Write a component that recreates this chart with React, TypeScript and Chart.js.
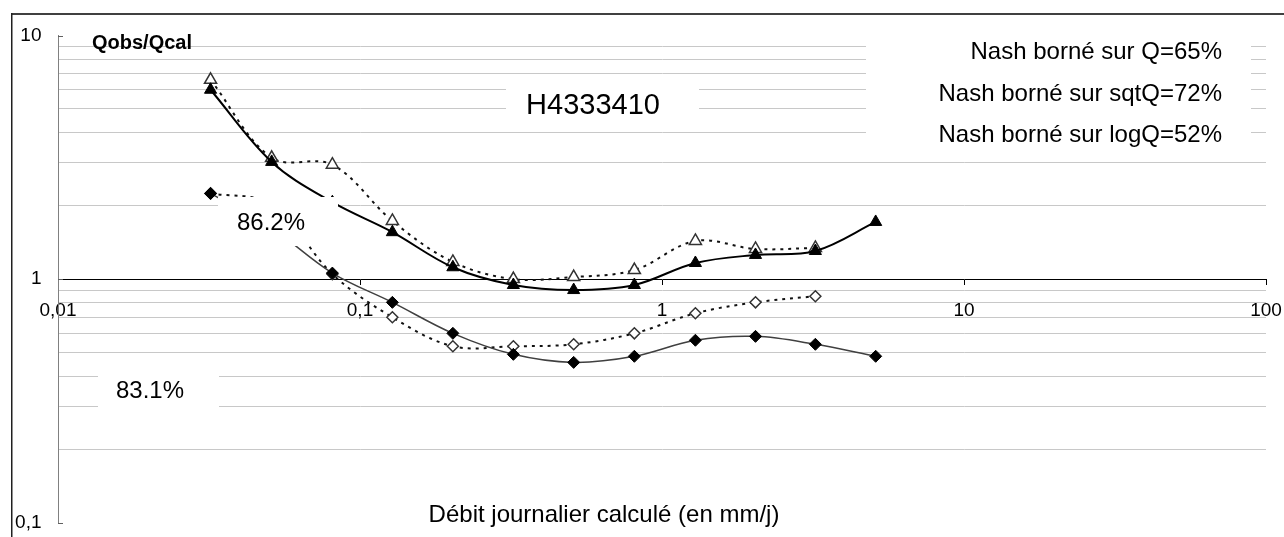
import React, { useEffect, useRef } from "react";
import { Chart, registerables } from "chart.js";

Chart.register(...registerables);

// ---- data ----
const xValues = [0.032, 0.051, 0.081, 0.128, 0.203, 0.322, 0.51, 0.81, 1.29, 2.04, 3.22, 5.1];
const filledTriangles = [5.99, 3.03, 2.07, 1.56, 1.12, 0.947, 0.903, 0.947, 1.166, 1.258, 1.306, 1.718];
const openTriangles = [6.58, 3.15, 2.95, 1.735, 1.177, 1.002, 1.021, 1.091, 1.436, 1.331, 1.344];
const filledDiamonds = [2.25, 1.62, 1.06, 0.804, 0.6, 0.492, 0.456, 0.483, 0.562, 0.583, 0.541, 0.483];
const openDiamonds = [2.25, 2.03, 1.05, 0.698, 0.531, 0.531, 0.541, 0.6, 0.725, 0.804, 0.852];

const xTickValues = [0.01, 0.1, 1, 10, 100];
const xTickLabels = ["0,01", "0,1", "1", "10", "100"];
const yMajorValues = [0.1, 1, 10];
const yMajorLabels = ["0,1", "1", "10"];
const yGridValues = [0.1, 0.2, 0.3, 0.4, 0.5, 0.6, 0.7, 0.8, 0.9, 1, 2, 3, 4, 5, 6, 7, 8, 9, 10];

const yAxisTitle = "Qobs/Qcal";
const xAxisTitle = "Débit journalier calculé (en mm/j)";
const stationName = "H4333410";
const nashLines = ["Nash borné sur Q=65%", "Nash borné sur sqtQ=72%", "Nash borné sur logQ=52%"];
const upperPct = "86.2%";
const lowerPct = "83.1%";

const FONT = '"Liberation Sans", Arial, sans-serif';

export default function App() {
  const ref = useRef<HTMLCanvasElement>(null);

  useEffect(() => {
    const canvas = ref.current;
    if (!canvas) return;
    const mk = (ys: number[]) => ys.map((y, i) => ({ x: xValues[i], y }));

    const overlay = {
      id: "overlay",
      beforeDraw(chart: any) {
        const ctx = chart.ctx;
        ctx.save();
        ctx.fillStyle = "#fff";
        ctx.fillRect(0, 0, chart.width, chart.height);
        ctx.strokeStyle = "#404040";
        ctx.lineWidth = 2;
        ctx.beginPath();
        ctx.moveTo(11, 14);
        ctx.lineTo(chart.width, 14);
        ctx.stroke();
        ctx.strokeStyle = "#202020";
        ctx.lineWidth = 1.5;
        ctx.beginPath();
        ctx.moveTo(11.75, 13);
        ctx.lineTo(11.75, chart.height);
        ctx.stroke();
        ctx.restore();
      },
      afterDatasetsDraw(chart: any) {
        const ctx = chart.ctx;
        ctx.save();
        ctx.fillStyle = "#fff";
        ctx.fillRect(866, 38, 385, 112);
        ctx.fillRect(506, 80, 193, 45);
        ctx.fillRect(218, 197, 120, 49);
        ctx.fillRect(98, 360, 121, 60);

        ctx.fillStyle = "#000";
        ctx.textBaseline = "middle";
        ctx.font = `24px ${FONT}`;
        ctx.textAlign = "right";
        const ys = [52, 94, 135];
        nashLines.forEach((t, i) => ctx.fillText(t, 1222, ys[i]));
        ctx.textAlign = "center";
        ctx.fillText(upperPct, 271, 223);
        ctx.fillText(lowerPct, 150, 391);
        ctx.fillText(xAxisTitle, 604, 515);
        ctx.font = `29px ${FONT}`;
        ctx.fillText(stationName, 593, 106);
        ctx.font = `bold 20px ${FONT}`;
        ctx.textAlign = "left";
        ctx.fillText(yAxisTitle, 92, 43);
        ctx.restore();
      },
      afterDraw(chart: any) {
        const ctx = chart.ctx;
        const ys = chart.scales.y;
        const left = chart.chartArea.left;
        ctx.save();
        ctx.strokeStyle = "#606060";
        ctx.lineWidth = 1;
        yMajorValues.forEach((v) => {
          const py = Math.round(ys.getPixelForValue(v)) + 0.5;
          ctx.beginPath();
          ctx.moveTo(left, py);
          ctx.lineTo(left + 5, py);
          ctx.stroke();
        });
        ctx.restore();
      },
    };

    const chart = new Chart(canvas, {
      type: "line",
      data: {
        datasets: [
          {
            label: "filled triangles",
            data: mk(filledTriangles),
            borderColor: "#000",
            borderWidth: 2,
            pointStyle: "triangle",
            pointRadius: 7,
            pointBackgroundColor: "#000",
            pointBorderColor: "#000",
            pointBorderWidth: 1,
            tension: 0.35,
            fill: false,
          },
          {
            label: "filled diamonds",
            data: mk(filledDiamonds),
            borderColor: "#404040",
            borderWidth: 1.5,
            pointStyle: "rectRot",
            pointRadius: 6,
            pointBackgroundColor: "#000",
            pointBorderColor: "#000",
            pointBorderWidth: 1,
            tension: 0.35,
            fill: false,
          },
          {
            label: "open triangles",
            data: mk(openTriangles),
            borderColor: "#111",
            borderWidth: 2,
            borderDash: [3, 5],
            pointStyle: "triangle",
            pointRadius: 7,
            pointBackgroundColor: "#fff",
            pointBorderColor: "#333",
            pointBorderWidth: 1.5,
            tension: 0.35,
            fill: false,
          },
          {
            label: "open diamonds",
            data: mk(openDiamonds),
            borderColor: "#111",
            borderWidth: 2,
            borderDash: [3, 5],
            pointStyle: "rectRot",
            pointRadius: 5.5,
            pointBackgroundColor: "#fff",
            pointBorderColor: "#333",
            pointBorderWidth: 1.5,
            tension: 0.35,
            fill: false,
          },
        ],
      },
      options: {
        responsive: false,
        animation: false,
        events: [],
        layout: { padding: { left: 0, top: 35.5, right: 18, bottom: 14 } },
        plugins: { legend: { display: false }, tooltip: { enabled: false } },
        scales: {
          x: {
            type: "logarithmic",
            min: 0.01,
            max: 100,
            position: { y: 1 } as any,
            afterBuildTicks: (s: any) => {
              s.ticks = xTickValues.map((v) => ({ value: v, major: true }));
            },
            afterFit: (s: any) => {
              s.height = 0;
              s.paddingLeft = 0;
              s.paddingRight = 0;
              s.paddingTop = 0;
              s.paddingBottom = 0;
            },
            ticks: {
              callback: (_v: any, i: number) => xTickLabels[i] ?? "",
              font: { family: FONT, size: 19 },
              color: "#000",
              padding: 15,
              autoSkip: false,
              maxRotation: 0,
            },
            grid: { drawOnChartArea: false, drawTicks: true, tickLength: 5, tickColor: "#000" },
            border: { display: true, color: "#000", width: 1 },
          },
          y: {
            type: "logarithmic",
            min: 0.1,
            max: 10,
            position: "left",
            afterBuildTicks: (s: any) => {
              s.ticks = yGridValues.map((v) => ({ value: v }));
            },
            afterFit: (s: any) => {
              s.width = 58;
              s.paddingTop = 0;
              s.paddingBottom = 0;
              s.paddingLeft = 0;
              s.paddingRight = 0;
            },
            ticks: {
              callback: (v: any) => {
                const idx = yMajorValues.indexOf(Number(v));
                return idx >= 0 ? yMajorLabels[idx] : "";
              },
              font: { family: FONT, size: 19 },
              color: "#000",
              padding: 16.5,
              autoSkip: false,
            },
            grid: {
              drawTicks: false,
              color: (c: any) => (yMajorValues.indexOf(c.tick?.value) >= 0 ? "rgba(0,0,0,0)" : "#c8c8c8"),
              lineWidth: 1,
            },
            border: { display: true, color: "#808080", width: 1 },
          },
        },
      },
      plugins: [overlay],
    });
    return () => chart.destroy();
  }, []);

  return (
    <div style={{ position: "absolute", left: 0, top: 0, width: 1284, height: 537 }}>
      <canvas ref={ref} width={1284} height={537} style={{ width: 1284, height: 537, display: "block" }} />
    </div>
  );
}
